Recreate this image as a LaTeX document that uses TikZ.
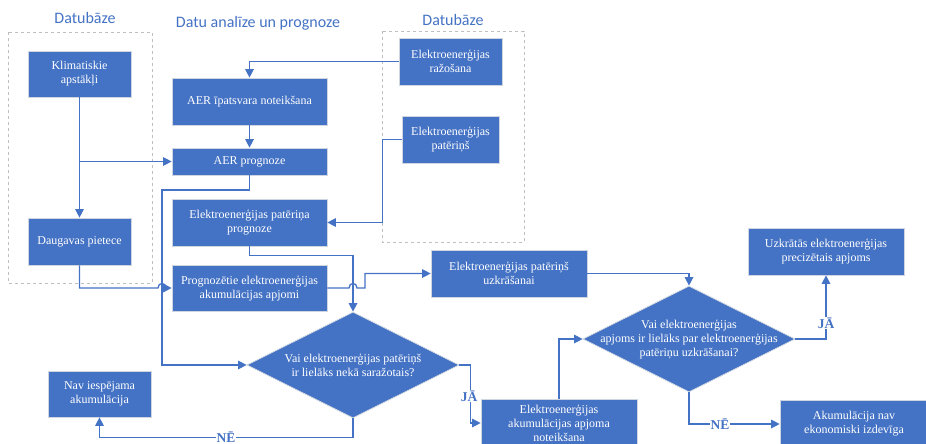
\documentclass[tikz,border=0pt]{standalone}
\usepackage{fontspec}
\setmainfont{Liberation Serif}
\newfontfamily\titlefont{Carlito}
\usetikzlibrary{shapes.geometric,arrows.meta}
\definecolor{bl}{HTML}{4472C4}
\definecolor{edgec}{HTML}{D0D6E0}
\definecolor{dashc}{HTML}{BFBFBF}
\begin{document}
\begin{tikzpicture}[x=1pt,y=-1pt,
  box/.style={draw=edgec, line width=0.7pt, fill=bl, text=white, align=center,
    inner sep=2pt, font=\fontsize{12}{14}\selectfont},
  dia/.style={diamond, draw=edgec, line width=0.7pt, fill=bl, inner sep=0pt},
  diatext/.style={text=white, align=center, font=\fontsize{12}{14}\selectfont},
  arr/.style={draw=bl, line width=1.3pt, -{Triangle[length=8.5pt,width=8.5pt]}},
  lbl/.style={fill=white, text=bl, inner sep=1pt, font=\bfseries\fontsize{13.5}{13.5}\selectfont},
  title/.style={text=bl, font=\titlefont\fontsize{16}{16}\selectfont},
  group/.style={draw=dashc, dashed, line width=0.6pt}]
\useasboundingbox (0,0) rectangle (926,444);

% group frames and titles
\draw[group] (8,32) rectangle (152,283);
\draw[group] (382,31) rectangle (524,242);
\node[title] (t1) at (85,18) {Datubāze};
\node[title] (t2) at (258,23) {Datu analīze un prognoze};
\node[title] (t3) at (453,20) {Datubāze};

% boxes
\node[box, minimum width=103, minimum height=46] (klim) at (79.5,74) {Klimatiskie\\apstākļi};
\node[box, minimum width=103, minimum height=47] (daug) at (79.5,241.5) {Daugavas pietece};
\node[box, minimum width=155, minimum height=47] (aeri) at (249.5,101.5) {AER īpatsvara noteikšana};
\node[box, minimum width=155, minimum height=27] (aerp) at (249.5,161.5) {AER prognoze};
\node[box, minimum width=155, minimum height=47] (epp) at (249.5,222.5) {Elektroenerģijas patēriņa\\prognoze};
\node[box, minimum width=155, minimum height=46] (pea) at (249.5,288) {Prognozētie elektroenerģijas\\akumulācijas apjomi};
\node[box, minimum width=103, minimum height=47] (raz) at (450.5,61.5) {Elektroenerģijas\\ražošana};
\node[box, minimum width=97, minimum height=47] (pat) at (450.5,139.5) {Elektroenerģijas\\patēriņš};
\node[box, minimum width=156, minimum height=47] (uzk) at (509,273.5) {Elektroenerģijas patēriņš\\uzkrāšanai};
\node[box, minimum width=103, minimum height=46] (nav) at (99.5,394) {Nav iespējama\\akumulācija};
\node[box, minimum width=156, minimum height=48] (eaan) at (559,423) {Elektroenerģijas\\akumulācijas apjoma\\noteikšana};
\node[box, minimum width=156, minimum height=47] (uzpr) at (826,251.5) {Uzkrātās elektroenerģijas\\precizētais apjoms};
\node[box, minimum width=148, minimum height=48] (akn) at (854,424) {Akumulācija nav\\ekonomiski izdevīga};

% diamonds
\node[dia, minimum width=212, minimum height=106] (d1) at (353,365) {};
\node[diatext] (d1t) at (d1.center) {Vai elektroenerģijas patēriņš\\ir lielāks nekā saražotais?};
\node[dia, minimum width=212, minimum height=106] (d2) at (689,339) {};
\node[diatext] (d2t) at (d2.center) {Vai elektroenerģijas\\apjoms ir lielāks par elektroenerģijas\\patēriņu uzkrāšanai?};

% connectors
\draw[arr] (klim) -- (daug);
\draw[arr] (klim.south |- aerp.west) -- (aerp.west);
\draw[arr] (raz.west) -| (aeri.north);
\draw[arr] (aeri) -- (aerp);
\draw[arr] (aerp.south) |- (162,190) |- (d1.west);
\draw[arr] (daug.south) |- (158,288) .. controls (158,282) and (166,282) .. (166,288) -- (pea.west);
\draw[arr] (pat.west) -- ++(-19,0) |- (epp.east);
\draw[arr] (epp.south) -- ++(0,9) -| (d1.north);
\draw[arr] (pea.east) -- (349,288) .. controls (349,282) and (357,282) .. (357,288) -- (365,288) |- (uzk.west);
\draw[arr] (uzk.east) -| (d2.north);
\draw[arr] (d1.east) -- ++(11,0) |- (eaan.west);
\draw[arr] (d1.south) -- ++(0,19) -| (nav.south);
\draw[arr] (eaan.north) |- (d2.west);
\draw[arr] (d2.east) -| (uzpr.south);
\draw[arr] (d2.south) |- (akn.west);

% labels
\node[lbl] (l1) at (469,396) {JĀ};
\node[lbl] (l2) at (226,437) {NĒ};
\node[lbl] (l3) at (826,323) {JĀ};
\node[lbl] (l4) at (720,424) {NĒ};
\end{tikzpicture}
\end{document}
